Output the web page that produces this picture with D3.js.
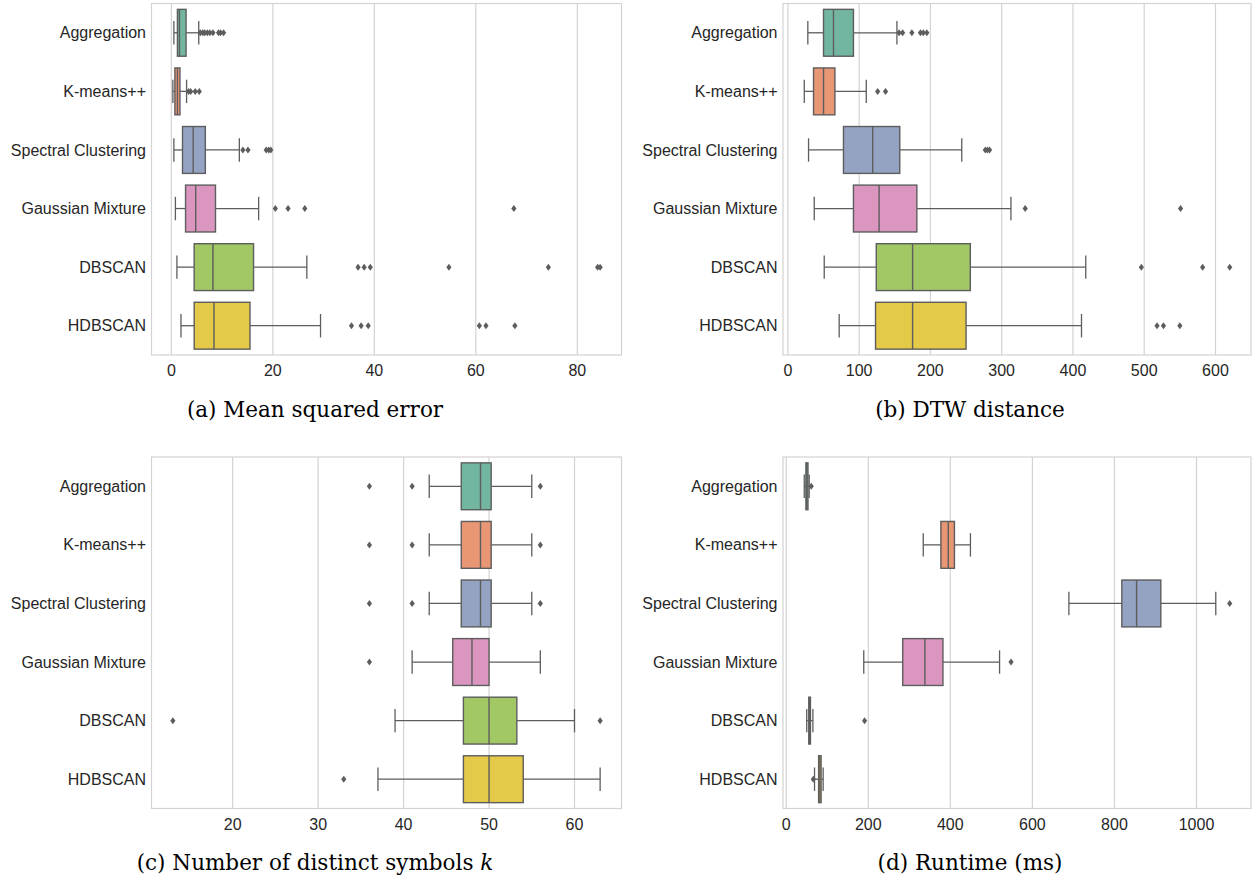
<!DOCTYPE html>
<html>
<head>
<meta charset="utf-8">
<script src="https://cdn.jsdelivr.net/npm/d3@7"></script>
<style>
  body { margin: 0; background: #fff; }
  svg { display: block; }
</style>
</head>
<body>
<div id="chart"></div>
<script>
// methods, top to bottom
const methods = ["Aggregation", "K-means++", "Spectral Clustering", "Gaussian Mixture", "DBSCAN", "HDBSCAN"];
const palette = ["#66c2a5", "#fc8d62", "#8da0cb", "#e78ac3", "#a6d854", "#ffd92f"];

// box stats per method: [lower whisker, q1, median, q3, upper whisker]
const mseStats = [
    [0.5, 1.2, 1.6, 2.9, 5.4],
    [0.3, 0.7, 1.2, 1.7, 3.0],
    [0.5, 2.2, 4.3, 6.7, 13.4],
    [0.8, 2.8, 4.8, 8.7, 17.2],
    [1.1, 4.5, 8.2, 16.2, 26.7],
    [1.9, 4.5, 8.4, 15.5, 29.4]
];
const mseOutliers = [
    [5.7, 6.2, 6.6, 7.1, 7.6, 8.2, 9.3, 9.7, 10.3],
    [3.4, 3.8, 4.7, 5.5],
    [14.1, 15.1, 18.7, 19.2, 19.6],
    [20.5, 23.0, 26.3, 67.5],
    [36.8, 38.0, 39.2, 54.7, 74.3, 84.0, 84.5],
    [35.5, 37.4, 38.8, 60.7, 62.0, 67.7]
];

const dtwStats = [
    [28, 50, 64, 92, 153],
    [23, 36, 50, 66, 110],
    [29, 78, 119, 157, 244],
    [37, 92, 128, 181, 313],
    [51, 124, 175, 256, 418],
    [72, 123, 175, 250, 412]
];
const dtwOutliers = [
    [156, 161, 174, 186, 190, 195],
    [126, 137],
    [277, 280, 283],
    [333, 551],
    [496, 582, 620],
    [518, 527, 550]
];

const symStats = [
    [43, 46.75, 49, 50.25, 55],
    [43, 46.75, 49, 50.25, 55],
    [43, 46.75, 49, 50.25, 55],
    [41, 45.75, 48, 50, 56],
    [39, 47, 50, 53.25, 60],
    [37, 47, 50, 54, 63]
];
const symOutliers = [
    [36, 41, 56],
    [36, 41, 56],
    [36, 41, 56],
    [36],
    [13, 63],
    [33]
];

const runStats = [
    [44, 48, 50, 53, 56],
    [334, 377, 395, 410, 449],
    [689, 818, 854, 913, 1047],
    [189, 284, 338, 382, 520],
    [50, 55, 57, 59, 65],
    [69, 79, 82, 85, 90]
];
const runOutliers = [
    [61],
    [],
    [1081],
    [548],
    [191],
    [66]
];

const mseTicks = [0, 20, 40, 60, 80];
const dtwTicks = [0, 100, 200, 300, 400, 500, 600];
const symTicks = [20, 30, 40, 50, 60];
const runTicks = [0, 200, 400, 600, 800, 1000];

const width = 1253, height = 880;
const lineGray = "#5d5d5d";
const gridGray = "#d3d3d3";

const svg = d3.select("#chart").append("svg")
    .attr("width", width)
    .attr("height", height);

function desat(c) {
    let h = d3.hsl(c);
    h.s *= 0.75;
    return h.formatHex();
}

function diamond(cx, cy) {
    return `M${cx},${cy - 3.5}L${cx + 2.6},${cy}L${cx},${cy + 3.5}L${cx - 2.6},${cy}Z`;
}

function drawPanel(box, stats, outliers, ticks, caption) {
    // domain like matplotlib autoscale: data range + 5% each side
    let all = [];
    stats.forEach(s => all.push(s[0], s[4]));
    outliers.forEach(o => all.push(...o));
    let lo = d3.min(all), hi = d3.max(all);
    let pad = (hi - lo) * 0.05;

    const x = d3.scaleLinear().domain([lo - pad, hi + pad]).range([box.x0, box.x1]);
    const y = d3.scaleBand().domain(methods).range([box.y0, box.y1]);
    const bw = y.bandwidth() * 0.8;

    const g = svg.append("g");

    // grid
    g.append("g").selectAll("line")
        .data(ticks)
        .enter()
        .append("line")
        .attr("x1", d => x(d)).attr("x2", d => x(d))
        .attr("y1", box.y0).attr("y2", box.y1)
        .attr("stroke", gridGray)
        .attr("stroke-width", 1.2);

    // frame
    g.append("rect")
        .attr("x", box.x0).attr("y", box.y0)
        .attr("width", box.x1 - box.x0).attr("height", box.y1 - box.y0)
        .attr("fill", "none")
        .attr("stroke", gridGray)
        .attr("stroke-width", 1.2);

    // x tick labels
    g.append("g").selectAll("text")
        .data(ticks)
        .enter()
        .append("text")
        .attr("x", d => x(d))
        .attr("y", box.y1 + 21)
        .attr("text-anchor", "middle")
        .attr("font-family", "Liberation Sans, Arial, sans-serif")
        .attr("font-size", 16)
        .attr("fill", "#262626")
        .text(d => d);

    // y tick labels
    g.append("g").selectAll("text")
        .data(methods)
        .enter()
        .append("text")
        .attr("x", box.x0 - 5.5)
        .attr("y", d => y(d) + y.bandwidth() / 2)
        .attr("dy", "0.35em")
        .attr("text-anchor", "end")
        .attr("font-family", "Liberation Sans, Arial, sans-serif")
        .attr("font-size", 16)
        .attr("fill", "#262626")
        .text(d => d);

    // boxes
    const items = g.append("g").selectAll("g")
        .data(methods.map((m, i) => ({ m, i, s: stats[i], o: outliers[i] })))
        .enter()
        .append("g");

    const cy = d => y(d.m) + y.bandwidth() / 2;

    // whiskers
    items.append("line")
        .attr("x1", d => x(d.s[0])).attr("x2", d => x(d.s[1]))
        .attr("y1", cy).attr("y2", cy)
        .attr("stroke", lineGray).attr("stroke-width", 1.3);
    items.append("line")
        .attr("x1", d => x(d.s[3])).attr("x2", d => x(d.s[4]))
        .attr("y1", cy).attr("y2", cy)
        .attr("stroke", lineGray).attr("stroke-width", 1.3);
    // caps
    items.selectAll(".cap")
        .data(d => [d.s[0], d.s[4]].map(v => ({ v, c: cy(d) })))
        .enter()
        .append("line")
        .attr("class", "cap")
        .attr("x1", d => x(d.v)).attr("x2", d => x(d.v))
        .attr("y1", d => d.c - bw / 4).attr("y2", d => d.c + bw / 4)
        .attr("stroke", lineGray).attr("stroke-width", 1.3);

    items.append("rect")
        .attr("x", d => x(d.s[1]))
        .attr("width", d => x(d.s[3]) - x(d.s[1]))
        .attr("y", d => cy(d) - bw / 2)
        .attr("height", bw)
        .attr("fill", d => desat(palette[d.i]))
        .attr("stroke", lineGray)
        .attr("stroke-width", 1.4);

    items.append("line")
        .attr("x1", d => x(d.s[2])).attr("x2", d => x(d.s[2]))
        .attr("y1", d => cy(d) - bw / 2).attr("y2", d => cy(d) + bw / 2)
        .attr("stroke", lineGray).attr("stroke-width", 1.4);

    // outliers
    items.selectAll(".flier")
        .data(d => d.o.map(v => ({ v, c: cy(d) })))
        .enter()
        .append("path")
        .attr("class", "flier")
        .attr("d", d => diamond(x(d.v), d.c))
        .attr("fill", lineGray);

    // caption
    const cap = svg.append("text")
        .attr("x", box.capX)
        .attr("y", box.capY)
        .attr("text-anchor", "middle")
        .attr("font-family", "DejaVu Serif, serif")
        .attr("font-size", 21.5)
        .attr("fill", "#000");
    caption.forEach(part => {
        cap.append("tspan")
            .attr("font-style", part.it ? "italic" : "normal")
            .text(part.t);
    });
}

drawPanel({ x0: 151.5, x1: 621.5, y0: 3.5, y1: 355, capX: 315, capY: 417 },
    mseStats, mseOutliers, mseTicks, [{ t: "(a)  Mean squared error" }]);
drawPanel({ x0: 783, x1: 1251, y0: 3.5, y1: 355, capX: 970, capY: 417 },
    dtwStats, dtwOutliers, dtwTicks, [{ t: "(b)  DTW distance" }]);
drawPanel({ x0: 151.5, x1: 621.5, y0: 457, y1: 808.5, capX: 315, capY: 870 },
    symStats, symOutliers, symTicks, [{ t: "(c)  Number of distinct symbols " }, { t: "k", it: true }]);
drawPanel({ x0: 783, x1: 1251, y0: 457, y1: 808.5, capX: 970, capY: 870 },
    runStats, runOutliers, runTicks, [{ t: "(d)  Runtime (ms)" }]);
</script>
</body>
</html>
